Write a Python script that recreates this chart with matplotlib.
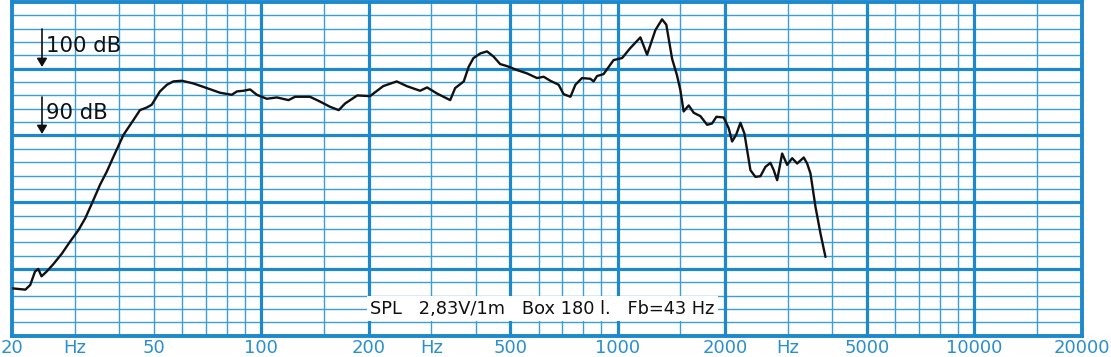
import matplotlib
matplotlib.use("Agg")
import matplotlib.pyplot as plt
from matplotlib.patches import Rectangle

# ---- data ----
freq_hz = [20, 21.8, 22.5, 23.2, 23.7, 24.2, 25.0, 26.1, 27.6, 29.1, 30.7, 32.1,
           33.5, 35.3, 36.9, 38.5, 41.1, 43.8, 45.7, 47.8, 49.3, 50.9, 52.0, 54.4,
           56.7, 59.9, 64.5, 70.4, 76.7, 82.7, 85.5, 89.2, 93.1, 97.2, 103.7, 110.7,
           119.3, 124.5, 137, 146, 156, 165, 172, 186, 202, 220, 240, 256, 279, 292,
           311, 339, 350, 370, 382, 394, 412, 430, 449, 468, 489, 522, 557, 594, 620,
           647, 683, 705, 737, 761, 794, 838, 856, 875, 913, 974, 1029, 1085, 1158,
           1209, 1276, 1332, 1369, 1421, 1467, 1499, 1531, 1582, 1634, 1706, 1782,
           1840, 1892, 1983, 2048, 2094, 2149, 2210, 2267, 2357, 2434, 2514, 2597,
           2682, 2740, 2801, 2893, 2988, 3086, 3188, 3326, 3400, 3474, 3588, 3706,
           3827]
spl_db = [67.1, 66.9, 67.6, 69.6, 70.0, 68.9, 69.6, 70.7, 72.3, 74.1, 75.8, 77.6,
          79.8, 82.6, 84.6, 86.8, 90.1, 92.3, 93.8, 94.2, 94.6, 95.8, 96.6, 97.6,
          98.1, 98.2, 97.8, 97.1, 96.4, 96.1, 96.6, 96.7, 96.9, 96.1, 95.5, 95.7,
          95.3, 95.8, 95.8, 95.1, 94.3, 93.8, 94.8, 96.0, 95.9, 97.4, 98.1, 97.4,
          96.7, 97.2, 96.3, 95.3, 97.1, 98.1, 100.3, 101.6, 102.3, 102.6, 101.8,
          100.7, 100.4, 99.8, 99.3, 98.6, 98.8, 98.2, 97.6, 96.2, 95.8, 97.6, 98.6,
          98.5, 98.1, 98.9, 99.2, 101.3, 101.6, 103.1, 104.7, 102.1, 105.8, 107.4,
          106.6, 101.5, 99.0, 96.8, 93.6, 94.5, 93.4, 92.9, 91.6, 91.8, 92.8, 92.7,
          91.1, 89.1, 90.1, 91.9, 90.3, 84.8, 83.8, 83.9, 85.3, 85.9, 84.8, 83.3,
          87.3, 85.6, 86.6, 85.8, 86.7, 85.8, 84.3, 79.3, 75.3, 71.8]

tick_pos = [20, 30, 50, 100, 200, 300, 500, 1000, 2000, 3000, 5000, 10000, 20000]
tick_labels = ["20", "Hz", "50", "100", "200", "Hz", "500", "1000", "2000", "Hz",
               "5000", "10000", "20000"]
major_vlines = [100, 200, 500, 1000, 2000, 5000, 10000]
minor_vlines = [30, 40, 50, 60, 70, 80, 90, 150, 300, 400, 600, 700, 800, 900,
                1500, 3000, 4000, 6000, 7000, 8000, 9000, 15000]
major_hlines = [70, 80, 90, 100]
minor_hlines = [62, 64, 66, 68, 72, 74, 76, 78, 82, 84, 86, 88, 92, 94, 96, 98,
                102, 104, 106, 108]
info_text = "SPL   2,83V/1m   Box 180 l.   Fb=43 Hz"

# ---- styling ----
THIN = "#3a9fd8"
THICK = "#1d89cc"
W, H = 1111, 357

fig = plt.figure(figsize=(W / 100, H / 100), dpi=100)
fig.patch.set_facecolor("white")
ax = fig.add_axes([12 / W, (H - 335.7) / H, (1081.5 - 12) / W, (335.7 - 2) / H])
ax.set_xscale("log")
ax.set_xlim(20, 20000)
ax.set_ylim(60, 110)

for f in minor_vlines:
    ax.axvline(f, color=THIN, lw=1.0, zorder=1)
for f in major_vlines:
    ax.axvline(f, color=THICK, lw=2.3, zorder=1.2)
for d in minor_hlines:
    ax.axhline(d, color=THIN, lw=1.0, zorder=1)
for d in major_hlines:
    ax.axhline(d, color=THICK, lw=2.3, zorder=1.2)

for s in ax.spines.values():
    s.set_color(THICK)
    s.set_linewidth(2.8)

ax.plot(freq_hz, spl_db, color="#111111", lw=1.7, solid_joinstyle="round",
        solid_capstyle="round", zorder=3)

ax.set_xticks(tick_pos)
ax.set_xticklabels(tick_labels)
ax.xaxis.set_minor_locator(matplotlib.ticker.NullLocator())
ax.tick_params(axis="x", length=0, pad=2.5, labelsize=13, labelcolor="#2a8fd0")
ax.set_yticks([])

# info box
ax.add_patch(Rectangle((0.332, 0.044), 0.328, 0.075, transform=ax.transAxes,
                       facecolor="white", edgecolor="none", zorder=2))
ax.text(0.4956, 0.080, info_text, transform=ax.transAxes, ha="center",
        va="center", fontsize=12.8, color="#111111", zorder=4)

# dB markers
for y0, y1, ybase, lab in [(29, 67, 52, "100 dB"), (97, 134, 119, "90 dB")]:
    fig.add_artist(matplotlib.patches.FancyArrowPatch(
        (42 / W, 1 - y0 / H), (42 / W, 1 - y1 / H), transform=fig.transFigure,
        arrowstyle="-|>,head_length=5,head_width=3", color="#111111", lw=1.2,
        shrinkA=0, shrinkB=0, zorder=5))
    fig.text(46 / W, 1 - ybase / H, lab, ha="left", va="baseline",
             fontsize=15.3, color="#111111", zorder=5)

fig.savefig("out.png", dpi=100, facecolor="white")
